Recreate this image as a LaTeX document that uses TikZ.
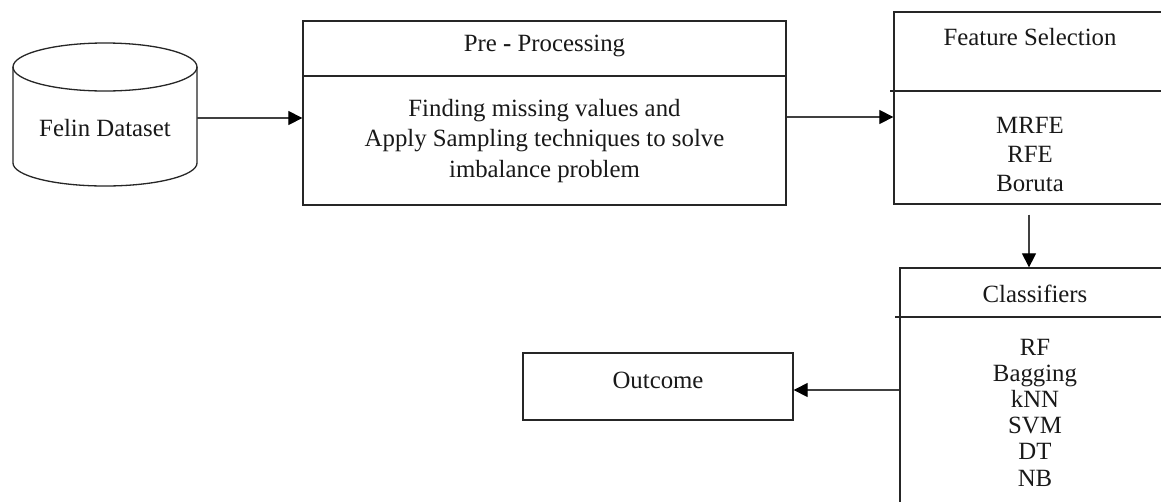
\documentclass[tikz,border=0pt]{standalone}
\usepackage{fontspec}
\setmainfont{Liberation Serif}
\usetikzlibrary{arrows.meta}
\tikzset{
  boxline/.style={draw=black!85, line width=1.3pt},
  bx/.style={boxline, rectangle, inner sep=0pt},
  arr/.style={draw=black!75, line width=1.2pt, -{Triangle[length=14pt,width=14pt,color=black]}},
  txt/.style={inner sep=0pt, align=center, text=black!90, font=\fontsize{24.8}{30.5}\selectfont},
}
\begin{document}
\begin{tikzpicture}[x=1pt,y=-1pt]
\useasboundingbox (0,0) rectangle (1161,501);
\clip (0,0) rectangle (1161,501);
\fill[white] (0,0) rectangle (1161,501);

% cylinder
\node[minimum width=184pt, minimum height=143pt, inner sep=0pt] (cyl) at (105,115) {};
\draw[boxline] (105,67) ellipse [x radius=92pt, y radius=24pt];
\draw[boxline] (13,67) -- (13,163) arc[start angle=180, end angle=360, x radius=92pt, y radius=23pt] -- (197,67);
\node[txt] (cyltxt) at (105,128) {Felin Dataset};

% pre-processing
\node[bx, minimum width=483pt, minimum height=184pt] (pre) at (544.5,113) {};
\draw[boxline] (pre.west |- 0,76) -- (pre.east |- 0,76);
\node[txt] (pretitle) at (544.5,46) {Pre {\bfseries -} Processing};
\node[txt, font=\fontsize{24.8}{30.5}\selectfont] (prebody) at (544.5,141) {Finding missing values and\\Apply Sampling techniques to solve\\imbalance problem};

% feature selection
\node[bx, minimum width=272pt, minimum height=192pt] (feat) at (1030,108) {};
\draw[boxline] ([xshift=-3pt]feat.west |- 0,91) -- (feat.east |- 0,91);
\node[txt] (feattitle) at (1030,37) {Feature Selection};
\node[txt, font=\fontsize{24.8}{29}\selectfont] (featbody) at (1030,154) {MRFE\\RFE\\Boruta};

% classifiers
\node[bx, minimum width=270pt, minimum height=244pt] (cls) at (1035,390) {};
\draw[boxline] ([xshift=-4pt]cls.west |- 0,317) -- (cls.east |- 0,317);
\node[txt] (clstitle) at (1035,294) {Classifiers};
\node[txt, font=\fontsize{24.8}{26.2}\selectfont] (clsbody) at (1035,412.5) {RF\\Bagging\\kNN\\SVM\\DT\\NB};

% outcome
\node[bx, minimum width=270pt, minimum height=67pt] (out) at (658,386.5) {};
\node[txt] (outtxt) at (658,380) {Outcome};

% connectors
\draw[arr] (cyl.east |- 0,118) -- (pre.west |- 0,118);
\draw[arr] (pre.east |- 0,117) -- (feat.west |- 0,117);
\draw[arr] ([xshift=-1pt,yshift=-10pt]feat.south) -- ([xshift=-1pt]feat.south |- cls.north);
\draw[arr] (cls.west |- 0,390) -- (out.east |- 0,390);
\end{tikzpicture}
\end{document}
